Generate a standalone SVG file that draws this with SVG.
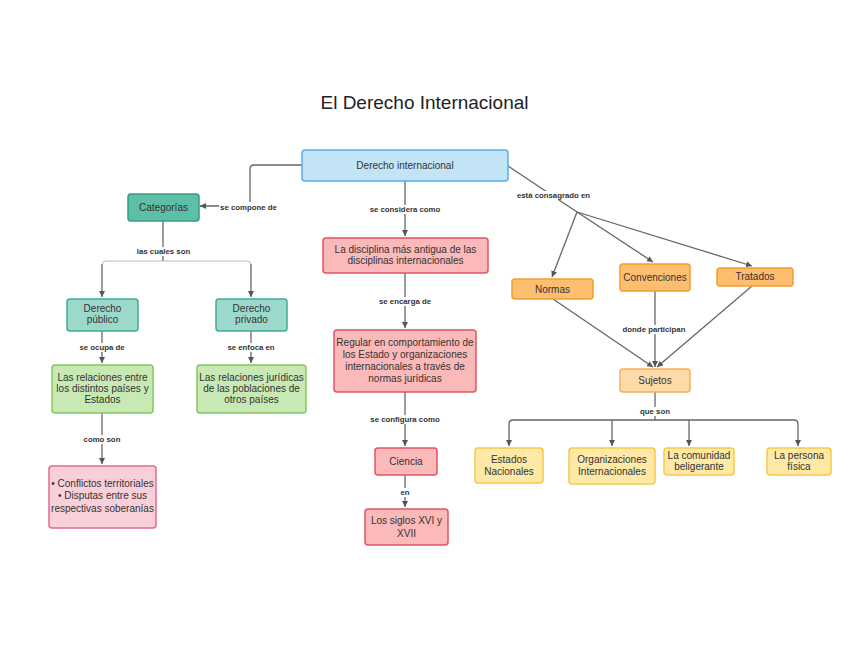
<svg xmlns="http://www.w3.org/2000/svg" width="848" height="655" viewBox="0 0 848 655">
<style>
.n rect{stroke-width:1.5}
.t{font-family:"Liberation Sans",Arial,sans-serif;font-size:10px;fill:#333;text-anchor:middle}
.lb{font-family:"Liberation Sans",Arial,sans-serif;font-size:7.8px;font-weight:bold;fill:#333;text-anchor:middle}
.c path{fill:none;stroke:#666;stroke-width:1.3}
.c .lt{stroke:#bbb;stroke-width:1}
.bg{fill:#fff}
.blue{fill:#c3e4f6;stroke:#56aeea}
.teal{fill:#5ebfa7;stroke:#2f9e84}
.teal2{fill:#9dd9cb;stroke:#3fab92}
.green{fill:#c8e9b4;stroke:#82c862}
.pink{fill:#f9d0da;stroke:#e36b8e}
.red{fill:#fbb9b9;stroke:#e05560}
.orange{fill:#fdbe70;stroke:#f49d2c}
.suj{fill:#fedaa8;stroke:#f6ae58}
.yel{fill:#fee9a6;stroke:#f6c94e}
</style>
<defs>
<marker id="ar" viewBox="0 0 10 10" refX="10" refY="5" markerWidth="6" markerHeight="6" markerUnits="userSpaceOnUse" orient="auto">
<path d="M0,0 L10,5 L0,10 Z" fill="#555"/>
</marker>
</defs>
<rect width="848" height="655" fill="#fff"/>
<text x="424.5" y="109" font-family="'Liberation Sans',Arial,sans-serif" font-size="19" fill="#222" text-anchor="middle">El Derecho Internacional</text>

<g id="connectors" class="c">
<path d="M302,165 H254 Q250,165 250,169 V202 Q250,206 246,206 H200" marker-end="url(#ar)"/>
<path d="M405,181 V236" marker-end="url(#ar)"/>
<path d="M405,273 V328" marker-end="url(#ar)"/>
<path d="M405,392 V446" marker-end="url(#ar)"/>
<path d="M405,475 V507" marker-end="url(#ar)"/>
<path d="M163,221 V261"/>
<path class="lt" d="M106,261 H247"/>
<path d="M102,265 Q102,261 106,261" class="lt"/>
<path d="M247,261 Q251,261 251,265" class="lt"/>
<path d="M102,264 V297" marker-end="url(#ar)"/>
<path d="M251,264 V297" marker-end="url(#ar)"/>
<path d="M102,331 V363" marker-end="url(#ar)"/>
<path d="M251,331 V363" marker-end="url(#ar)"/>
<path d="M102,413 V464" marker-end="url(#ar)"/>
<path d="M508,166 L577,212"/>
<path d="M577,212 L552,277" marker-end="url(#ar)"/>
<path d="M577,212 L653,262" marker-end="url(#ar)"/>
<path d="M577,212 L752,266" marker-end="url(#ar)"/>
<path d="M553,299 L653,367" marker-end="url(#ar)"/>
<path d="M655,291 V367" marker-end="url(#ar)"/>
<path d="M752,286 L657,367" marker-end="url(#ar)"/>
<path d="M655,392 V420"/>
<path d="M655,420 H513 Q509,420 509,424 V446" marker-end="url(#ar)"/>
<path d="M612,420 V446" marker-end="url(#ar)"/>
<path d="M655,420 H794 Q798,420 798,424 V446" marker-end="url(#ar)"/>
<path d="M689,420 V446" marker-end="url(#ar)"/>

<rect class="bg" x="219" y="202" width="59" height="9"/>
<text class="lb" x="248.5" y="209.5">se compone de</text>
<rect class="bg" x="367" y="205" width="76" height="9"/>
<text class="lb" x="405" y="212">se considera como</text>
<rect class="bg" x="378" y="297" width="54" height="9"/>
<text class="lb" x="405" y="304">se encarga de</text>
<rect class="bg" x="369" y="415" width="72" height="9"/>
<text class="lb" x="405" y="422">se configura como</text>
<rect class="bg" x="399" y="488" width="12" height="9"/>
<text class="lb" x="405" y="495">en</text>
<rect class="bg" x="136" y="247" width="55" height="9"/>
<text class="lb" x="163.5" y="254">las cuales son</text>
<rect class="bg" x="78" y="343" width="48" height="9"/>
<text class="lb" x="102" y="350">se ocupa de</text>
<rect class="bg" x="226" y="343" width="50" height="9"/>
<text class="lb" x="251" y="350">se enfoca en</text>
<rect class="bg" x="83" y="435" width="38" height="9"/>
<text class="lb" x="102" y="442">como son</text>
<rect class="bg" x="517" y="191" width="73" height="9"/>
<text class="lb" x="553.5" y="198">está consagrado en</text>
<rect class="bg" x="622" y="325" width="64" height="9"/>
<text class="lb" x="654" y="332">donde participan</text>
<rect class="bg" x="639" y="407" width="32" height="9"/>
<text class="lb" x="655" y="414">que son</text>
</g>

<g id="n-derecho-internacional" class="n"><rect class="blue" x="302" y="150" width="206" height="31" rx="3"/><text class="t" x="405" y="169">Derecho internacional</text></g>
<g id="n-categorias" class="n"><rect class="teal" x="128" y="194" width="71" height="27" rx="3"/><text class="t" x="163.5" y="211">Categorías</text></g>
<g id="n-derecho-publico" class="n"><rect class="teal2" x="67" y="299" width="71" height="32" rx="3"/><text class="t" x="102.5" y="311.5">Derecho</text><text class="t" x="102.5" y="322.5">público</text></g>
<g id="n-derecho-privado" class="n"><rect class="teal2" x="216" y="299" width="71" height="32" rx="3"/><text class="t" x="251.5" y="311.5">Derecho</text><text class="t" x="251.5" y="322.5">privado</text></g>
<g id="n-relaciones-paises" class="n"><rect class="green" x="52" y="365" width="101" height="48" rx="3"/><text class="t" x="102.5" y="380.5">Las relaciones entre</text><text class="t" x="102.5" y="391.5">los distintos países y</text><text class="t" x="102.5" y="402.5">Estados</text></g>
<g id="n-relaciones-juridicas" class="n"><rect class="green" x="197" y="365" width="109" height="48" rx="3"/><text class="t" x="251.5" y="380.5">Las relaciones jurídicas</text><text class="t" x="251.5" y="391.5">de las poblaciones de</text><text class="t" x="251.5" y="402.5">otros países</text></g>
<g id="n-conflictos" class="n"><rect class="pink" x="49" y="466" width="107" height="62" rx="3"/><text class="t" x="102.5" y="486.5">• Conflictos territoriales</text><text class="t" x="102.5" y="499">• Disputas entre sus</text><text class="t" x="102.5" y="511.5">respectivas soberanías</text></g>
<g id="n-disciplina" class="n"><rect class="red" x="323" y="238" width="165" height="35" rx="3"/><text class="t" x="405.5" y="252.5">La disciplina más antigua de las</text><text class="t" x="405.5" y="264">disciplinas internacionales</text></g>
<g id="n-regular" class="n"><rect class="red" x="334" y="330" width="142" height="62" rx="3"/><text class="t" x="405" y="345.5">Regular en comportamiento de</text><text class="t" x="405" y="357.5">los Estado y organizaciones</text><text class="t" x="405" y="369.5">internacionales a través de</text><text class="t" x="405" y="381.5">normas jurídicas</text></g>
<g id="n-ciencia" class="n"><rect class="red" x="375" y="448" width="62" height="27" rx="3"/><text class="t" x="406" y="465">Ciencia</text></g>
<g id="n-siglos" class="n"><rect class="red" x="365" y="509" width="83" height="36" rx="3"/><text class="t" x="406.5" y="524">Los siglos XVI y</text><text class="t" x="406.5" y="536.5">XVII</text></g>
<g id="n-normas" class="n"><rect class="orange" x="512" y="279" width="81" height="20" rx="3"/><text class="t" x="552.5" y="292.5">Normas</text></g>
<g id="n-convenciones" class="n"><rect class="orange" x="620" y="264" width="70" height="27" rx="3"/><text class="t" x="655" y="280.5">Convenciones</text></g>
<g id="n-tratados" class="n"><rect class="orange" x="717" y="268" width="76" height="18" rx="3"/><text class="t" x="755" y="279.5">Tratados</text></g>
<g id="n-sujetos" class="n"><rect class="suj" x="620" y="369" width="70" height="23" rx="3"/><text class="t" x="655" y="384">Sujetos</text></g>
<g id="n-estados" class="n"><rect class="yel" x="475" y="448" width="68" height="35" rx="3"/><text class="t" x="509" y="462.5">Estados</text><text class="t" x="509" y="474.5">Nacionales</text></g>
<g id="n-organizaciones" class="n"><rect class="yel" x="569" y="448" width="86" height="36" rx="3"/><text class="t" x="612" y="462.5">Organizaciones</text><text class="t" x="612" y="474.5">Internacionales</text></g>
<g id="n-comunidad" class="n"><rect class="yel" x="664" y="448" width="70" height="27" rx="3"/><text class="t" x="699" y="459">La comunidad</text><text class="t" x="699" y="470">beligerante</text></g>
<g id="n-persona" class="n"><rect class="yel" x="767" y="448" width="64" height="27" rx="3"/><text class="t" x="799" y="459">La persona</text><text class="t" x="799" y="470">física</text></g>
</svg>
